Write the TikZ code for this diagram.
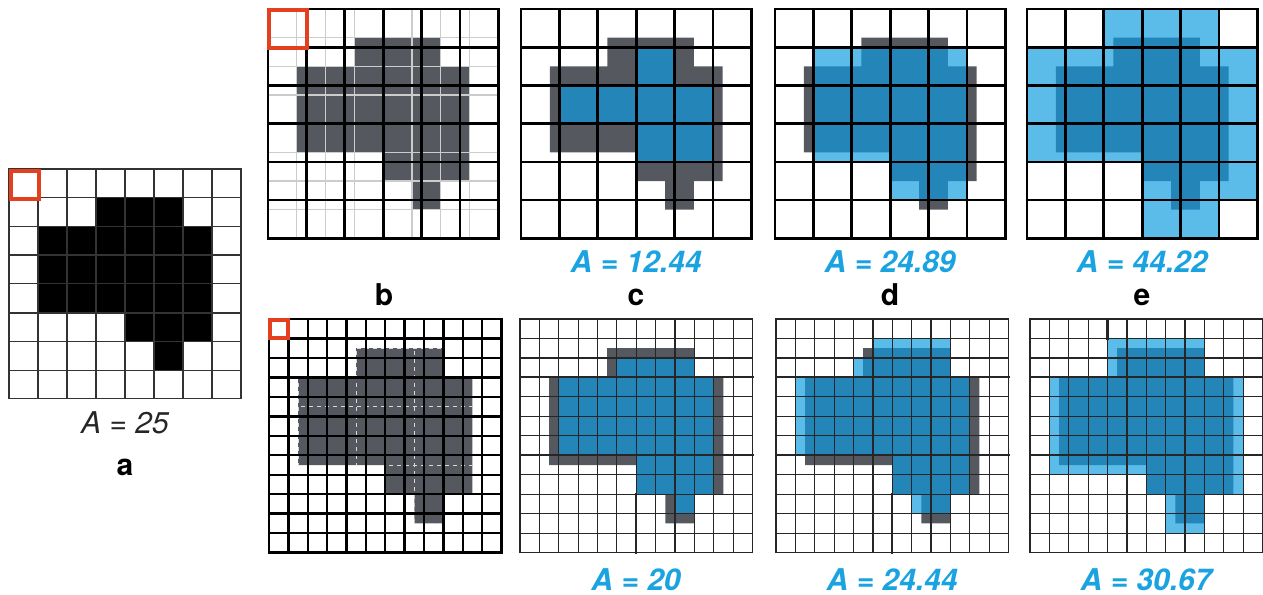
\documentclass[tikz,border=0pt]{standalone}
\usepackage{fontspec}
\setmainfont{TeX Gyre Heros}

\definecolor{blobgray}{HTML}{55595F}
\definecolor{lightblue}{HTML}{5BBCE9}
\definecolor{deepblue}{HTML}{2385B8}
\definecolor{areablue}{HTML}{1BA3E1}
\definecolor{markred}{HTML}{E2401F}

% the shape, in units of the 8x8 grid (y runs downwards)
\newcommand{\blobfill}[1]{\fill[#1] (3,1) -- (6,1) -- (6,2) -- (7,2) -- (7,6) -- (6,6) -- (6,7) -- (5,7) -- (5,6) -- (4,6) -- (4,5) -- (1,5) -- (1,2) -- (3,2) -- cycle;}
\newcommand{\blobclip}{\clip (3,1) -- (6,1) -- (6,2) -- (7,2) -- (7,6) -- (6,6) -- (6,7) -- (5,7) -- (5,6) -- (4,6) -- (4,5) -- (1,5) -- (1,2) -- (3,2) -- cycle;}
% n x n grid over the 8x8 square
\newcommand{\gridlines}[2]{\foreach \k in {0,...,#1} {\draw[#2] ({\k*8/#1},0) -- ({\k*8/#1},8); \draw[#2] (0,{\k*8/#1}) -- (8,{\k*8/#1});}}
% blocks of cells col0/row0/col1/row1, cell size #2
\newcommand{\cover}[3]{\foreach \pa/\pb/\pc/\pd in {#3} \fill[#1] ({\pa*#2},{\pb*#2}) rectangle ({\pc*#2},{\pd*#2});}
% estimate: light cells, darker where they meet the shape
\newcommand{\estimate}[2]{\cover{lightblue}{#1}{#2}\begin{scope}\blobclip\cover{deepblue}{#1}{#2}\end{scope}}

\begin{document}
\begin{tikzpicture}[x=0.75pt, y=-0.75pt,
    tl/.style={shift={#1}, x=21.6pt, y=-21.5pt},
    bl/.style={shift={#1}, x=21.8pt, y=-21.9pt},
    agrid/.style={black!80, line width=0.8pt, line cap=rect},
    coarse/.style={black, line width=2pt, line cap=rect},
    finegrid/.style={black!85, line width=0.9pt, line cap=rect},
    redmark/.style={markred, line width=3pt},
    arealabel/.style={areablue, font=\fontsize{22.5}{27}\selectfont\bfseries\itshape, anchor=base, inner sep=0pt},
    letter/.style={font=\fontsize{22.5}{27}\selectfont\bfseries, anchor=base, inner sep=0pt}
]
\useasboundingbox (0,0) rectangle (1263,594);

% a
\begin{scope}[shift={(9,169)}, x=21.75pt, y=-21.55pt]
  \blobfill{black}
  \gridlines{8}{agrid}
  \draw[agrid, line width=1.4pt] (0,3) -- (8,3) (0,5) -- (8,5);
  \draw[redmark] (0.07,0.07) rectangle (1.04,1.04);
\end{scope}
\node[font=\fontsize{22.5}{27}\selectfont\itshape, black!85, anchor=base, inner sep=0pt] (areaa) at (125,433) {A = 25};
\node[letter] (taga) at (125,475) {a};

% b, top
\begin{scope}[tl={(268,9)}]
  \blobfill{blobgray}
  \gridlines{8}{gray!40, line width=0.8pt}
  \gridlines{6}{coarse}
  \draw[redmark] (0.03,0.03) rectangle (1.37,1.37);
\end{scope}

% c, top
\begin{scope}[tl={(521,9)}]
  \blobfill{blobgray}
  \estimate{4/3}{3/1/4/2, 1/2/5/3, 3/3/5/4}
  \gridlines{6}{coarse}
\end{scope}

% d, top
\begin{scope}[tl={(775,9)}]
  \blobfill{blobgray}
  \estimate{4/3}{1/1/5/4, 3/4/5/5}
  \gridlines{6}{coarse}
\end{scope}

% e, top
\begin{scope}[tl={(1027,9)}]
  \blobfill{blobgray}
  \estimate{4/3}{2/0/5/1, 0/1/6/4, 3/4/6/5, 3/5/5/6}
  \gridlines{6}{coarse}
\end{scope}

\node[arealabel] (areac) at (636,272) {A = 12.44};
\node[arealabel] (aread) at (890,272) {A = 24.89};
\node[arealabel] (areae) at (1142,272) {A = 44.22};
\node[letter] (tagb) at (384,305) {b};
\node[letter] (tagc) at (636,305) {c};
\node[letter] (tagd) at (890,305) {d};
\node[letter] (tage) at (1142,305) {e};

% b, bottom
\begin{scope}[bl={(269,319)}]
  \blobfill{blobgray}
  \begin{scope}
    \blobclip
    \gridlines{8}{white!70!gray, dashed, line width=0.7pt}
  \end{scope}
  \gridlines{12}{black, line width=1.8pt, line cap=rect}
  \draw[redmark] (0.03,0.03) rectangle (0.66,0.66);
\end{scope}

% c, bottom
\begin{scope}[bl={(520,319)}]
  \blobfill{blobgray}
  \estimate{2/3}{5/2/9/3, 2/3/10/7, 6/7/10/9, 8/9/9/10}
  \gridlines{12}{finegrid}
  \draw[finegrid, line width=1.6pt] (0,2) -- (8,2) (0,14/3) -- (8,14/3) (4,6) -- (4,8);
\end{scope}

% d, bottom
\begin{scope}[bl={(776,319)}]
  \blobfill{blobgray}
  \estimate{2/3}{5/1/9/2, 4/2/9/3, 1/3/10/7, 6/7/10/9, 7/9/9/10}
  \gridlines{12}{finegrid}
  \draw[finegrid, line width=1.6pt] (0,2) -- (8,2) (0,14/3) -- (8,14/3) (4,6) -- (4,8);
\end{scope}

% e, bottom
\begin{scope}[bl={(1030,319)}]
  \blobfill{blobgray}
  \estimate{2/3}{4/1/9/3, 1/3/11/8, 6/8/11/9, 7/9/9/11}
  \gridlines{12}{finegrid}
  \draw[finegrid, line width=1.6pt] (0,2) -- (8,2) (0,14/3) -- (8,14/3) (8/3,0) -- (8/3,2/3);
\end{scope}

\node[arealabel] (areac2) at (636,590) {A = 20};
\node[arealabel] (aread2) at (892,590) {A = 24.44};
\node[arealabel] (areae2) at (1146,590) {A = 30.67};
\end{tikzpicture}
\end{document}
